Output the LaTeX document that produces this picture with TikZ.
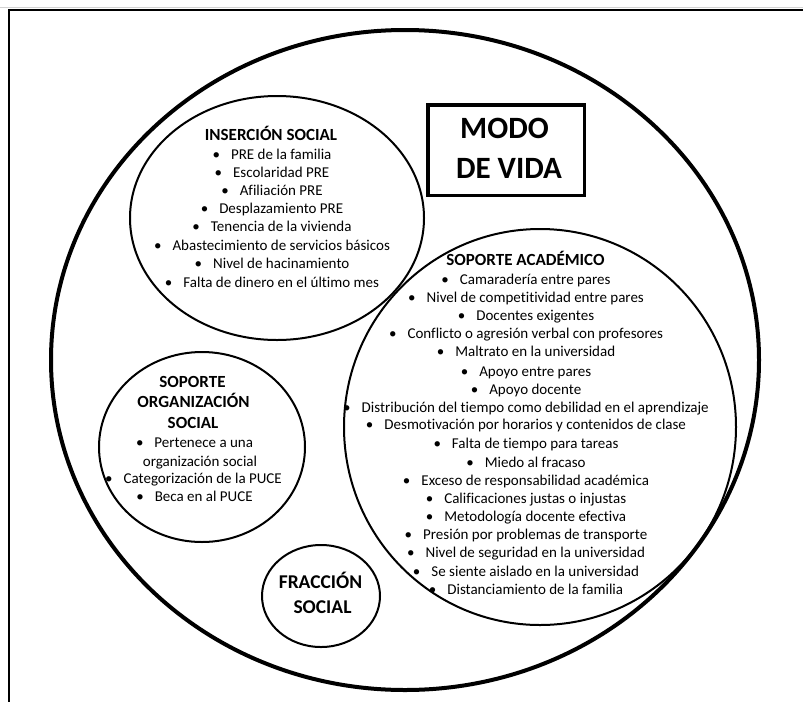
\documentclass[tikz,border=0pt]{standalone}
\usepackage{fontspec}
\setmainfont{Carlito}[Ligatures=NoCommon]
\usetikzlibrary{shapes.geometric}
\begin{document}
\begin{tikzpicture}[x=1pt,y=-1pt,
  ring/.style={draw, ellipse, inner sep=0pt, line width=#1},
  body/.style={font=\fontsize{15}{18}\selectfont, inner sep=0pt, anchor=base},
  ttl/.style={font=\bfseries\fontsize{17}{20}\selectfont, inner sep=0pt, anchor=base},
  big/.style={font=\bfseries\fontsize{31}{36}\selectfont, inner sep=0pt, anchor=base},
  frameline/.style={line width=2pt}]
\useasboundingbox (0,0) rectangle (803,702);
% page frame
\draw[gray!35, line width=1pt] (0,7.7) -- (803,7.7);
\coordinate (fTR) at (803,10);
\coordinate (fTL) at (9.3,10);
\coordinate (fBL) at (9.3,702);
\draw[frameline] (fTR) -- (fTL) -- (fBL);
% circles
\node[ring=4pt, minimum width=708pt, minimum height=660pt] (outer) at (405,360) {};
\node[ring=2pt, minimum width=294pt, minimum height=244pt] (ins) at (277,218) {};
\node[ring=2pt, minimum width=392pt, minimum height=396pt] (aca) at (540,427) {};
\node[ring=2pt, minimum width=206pt, minimum height=190pt] (org) at (202,447) {};
\node[ring=2pt, minimum width=118pt, minimum height=102pt] (fra) at (321,596) {};
% box
\node[draw, line width=3.5pt, minimum width=156.5pt, minimum height=90.5pt, inner sep=0pt] (box) at (506,150) {};
\node[big] (modo) at (504.5,138.5) {MODO};
\node[big] (vida) at (509,178.5) {DE VIDA};
% insercion social
\node[ttl] (inst) at (271,140.5) {INSERCIÓN SOCIAL};
\foreach \t/\y [count=\i] in {PRE de la familia/155, Escolaridad PRE/173, Afiliación PRE/191,
  Desplazamiento PRE/209, Tenencia de la vivienda/227, Abastecimiento de servicios básicos/246,
  Nivel de hacinamiento/264, Falta de dinero en el último mes/283}
  \node[body] (ins\i) at (272,\y+4.5) {•\hspace{11pt}\t};
% soporte academico
\node[ttl] (acat) at (525.5,265.5) {SOPORTE ACADÉMICO};
\foreach \t/\y [count=\i] in {Camaradería entre pares/280, Nivel de competitividad entre pares/298,
  Docentes exigentes/316, Conflicto o agresión verbal con profesores/334,
  Maltrato en la universidad/352, Apoyo entre pares/372, Apoyo docente/390,
  Distribución del tiempo como debilidad en el aprendizaje/408,
  Desmotivación por horarios y contenidos de clase/425, Falta de tiempo para tareas/444,
  Miedo al fracaso/463, Exceso de responsabilidad académica/481,
  Calificaciones justas o injustas/499, Metodología docente efectiva/517,
  Presión por problemas de transporte/535, Nivel de seguridad en la universidad/553,
  Se siente aislado en la universidad/572, Distanciamiento de la familia/590}
  \node[body] (aca\i) at (526,\y+4.5) {•\hspace{11pt}\t};
% soporte organizacion social
\node[ttl] (orgt1) at (192.5,387.5) {SOPORTE};
\node[ttl] (orgt2) at (193.5,407.5) {ORGANIZACIÓN};
\node[ttl] (orgt3) at (193,428.5) {SOCIAL};
\node[body] (org1) at (194.5,447.5) {•\hspace{11pt}Pertenece a una};
\node[body] (org2) at (200,466.5) {organización social};
\node[body] (org3) at (193.5,483.5) {•\hspace{11pt}Categorización de la PUCE};
\node[body] (org4) at (194.5,501.5) {•\hspace{11pt}Beca en al PUCE};
% fraccion social
\node[ttl, font=\bfseries\fontsize{19.5}{24}\selectfont] (frat1) at (320.5,588.5) {FRACCIÓN};
\node[ttl, font=\bfseries\fontsize{19.5}{24}\selectfont] (frat2) at (322.5,613.5) {SOCIAL};
\end{tikzpicture}
\end{document}
